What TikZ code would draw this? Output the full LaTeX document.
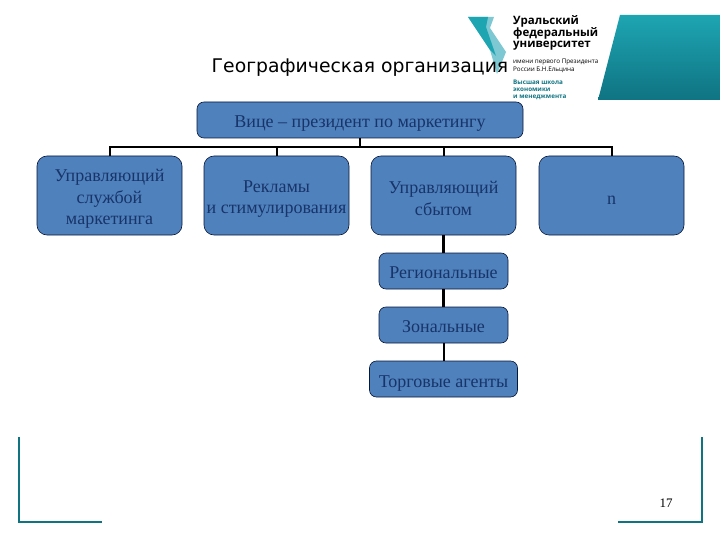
\documentclass[tikz,border=0pt]{standalone}
\usepackage{fontspec}
\setmainfont{Liberation Serif}
\newfontfamily\titlefont{DejaVu Sans}
\newfontfamily\logofont{Open Sans}
\usetikzlibrary{positioning}

\definecolor{boxblue}{RGB}{79,129,189}
\definecolor{boxline}{RGB}{8,24,58}
\definecolor{boxtext}{RGB}{24,52,104}
\definecolor{uniteal}{RGB}{15,115,130}
\definecolor{unilight}{RGB}{30,165,178}
\definecolor{unipale}{RGB}{125,200,210}

\tikzset{
  drop/.style={execute at begin node={\rule{0pt}{#1}}},
  unit/.style={draw=boxline, fill=boxblue, text=boxtext, rounded corners=7pt, semithick,
    align=center, inner sep=0pt, font=\fontsize{18}{21.5}\selectfont},
  mgr/.style={unit, rounded corners=10pt, minimum width=145pt, minimum height=79pt},
  level/.style={unit, drop=16pt, minimum width=129pt, minimum height=36pt},
  tie/.style={draw=black, line width=2pt},
  cornerline/.style={draw=uniteal, line width=2.8pt},
  logoline/.style={anchor=west, inner sep=0pt, font=\logofont\bfseries\fontsize{11.5}{12}\selectfont},
  logosmall/.style={logoline, font=\logofont\fontsize{6.3}{7}\selectfont},
  logoschool/.style={logoline, text=uniteal, font=\logofont\bfseries\fontsize{6.3}{7}\selectfont}
}

\begin{document}
\begin{tikzpicture}[x=1pt, y=-1pt]
\useasboundingbox (0,0) rectangle (720,540);

% logo
\shade[top color=unilight, bottom color=uniteal]
  (620,15) -- (720,15) -- (720,100) -- (598,100) -- cycle;
\fill[unipale] (468,17) -- (494,17) -- (490,28) -- (506,52) -- (497,74) -- (490,50) -- cycle;
\fill[unilight] (468,17) -- (488,17) -- (486,27) -- (496,56) -- (490,50) -- cycle;
\node[logoline] (uni1) at (513,21) {Уральский};
\node[logoline] (uni2) at (513,33) {федеральный};
\node[logoline] (uni3) at (513,46) {университет};
\node[logosmall] (uni4) at (513,62) {имени первого Президента};
\node[logosmall] (uni5) at (513,70) {России Б.Н.Ельцина};
\node[logoschool] (uni6) at (513,82) {Высшая школа};
\node[logoschool] (uni7) at (513,90) {экономики};
\node[logoschool] (uni8) at (513,97) {и менеджмента};

\node[font=\titlefont\fontsize{18.8}{22}\selectfont] (title) at (360,68) {Географическая организация};

% boxes
\node[unit, drop=19pt, minimum width=326pt, minimum height=36pt] (vp) at (360,120) {Вице – президент по маркетингу};
\node[mgr, drop=62pt] (service) at (109.5,195.5) {Управляющий\\службой\\маркетинга};
\node[mgr, drop=40pt] (promo) at (276.5,195.5) {Рекламы\\и стимулирования};
\node[mgr, drop=40pt] (sales) at (443.5,195.5) {Управляющий\\сбытом};
\node[mgr, drop=19pt] (other) at (611.5,195.5) {n};
\node[level] (region) at (443.5,271) {Региональные};
\node[level] (zone) at (443.5,325) {Зональные};
\node[level, drop=20pt, minimum width=148pt] (agents) at (443.5,379) {Торговые агенты};

% tree
\coordinate (bar) at (360,147);
\draw[tie] (vp) -- (bar);
\foreach \n in {service, promo, sales, other}
  \draw[tie] (bar) -| (\n.north);
\draw[tie, line width=3pt] (sales) -- (region);
\draw[tie, line width=2.5pt] (region) -- (zone);
\draw[tie] (zone) -- (agents);

% page corners
\coordinate (cornerl) at (19,522);
\coordinate (cornerr) at (702,522);
\draw[cornerline] (19,437) -- (cornerl) -- (102,522);
\draw[cornerline] (702,437) -- (cornerr) -- (618,522);
\node[font=\fontsize{13}{15}\selectfont] (page) at (666,503) {17};
\end{tikzpicture}
\end{document}
